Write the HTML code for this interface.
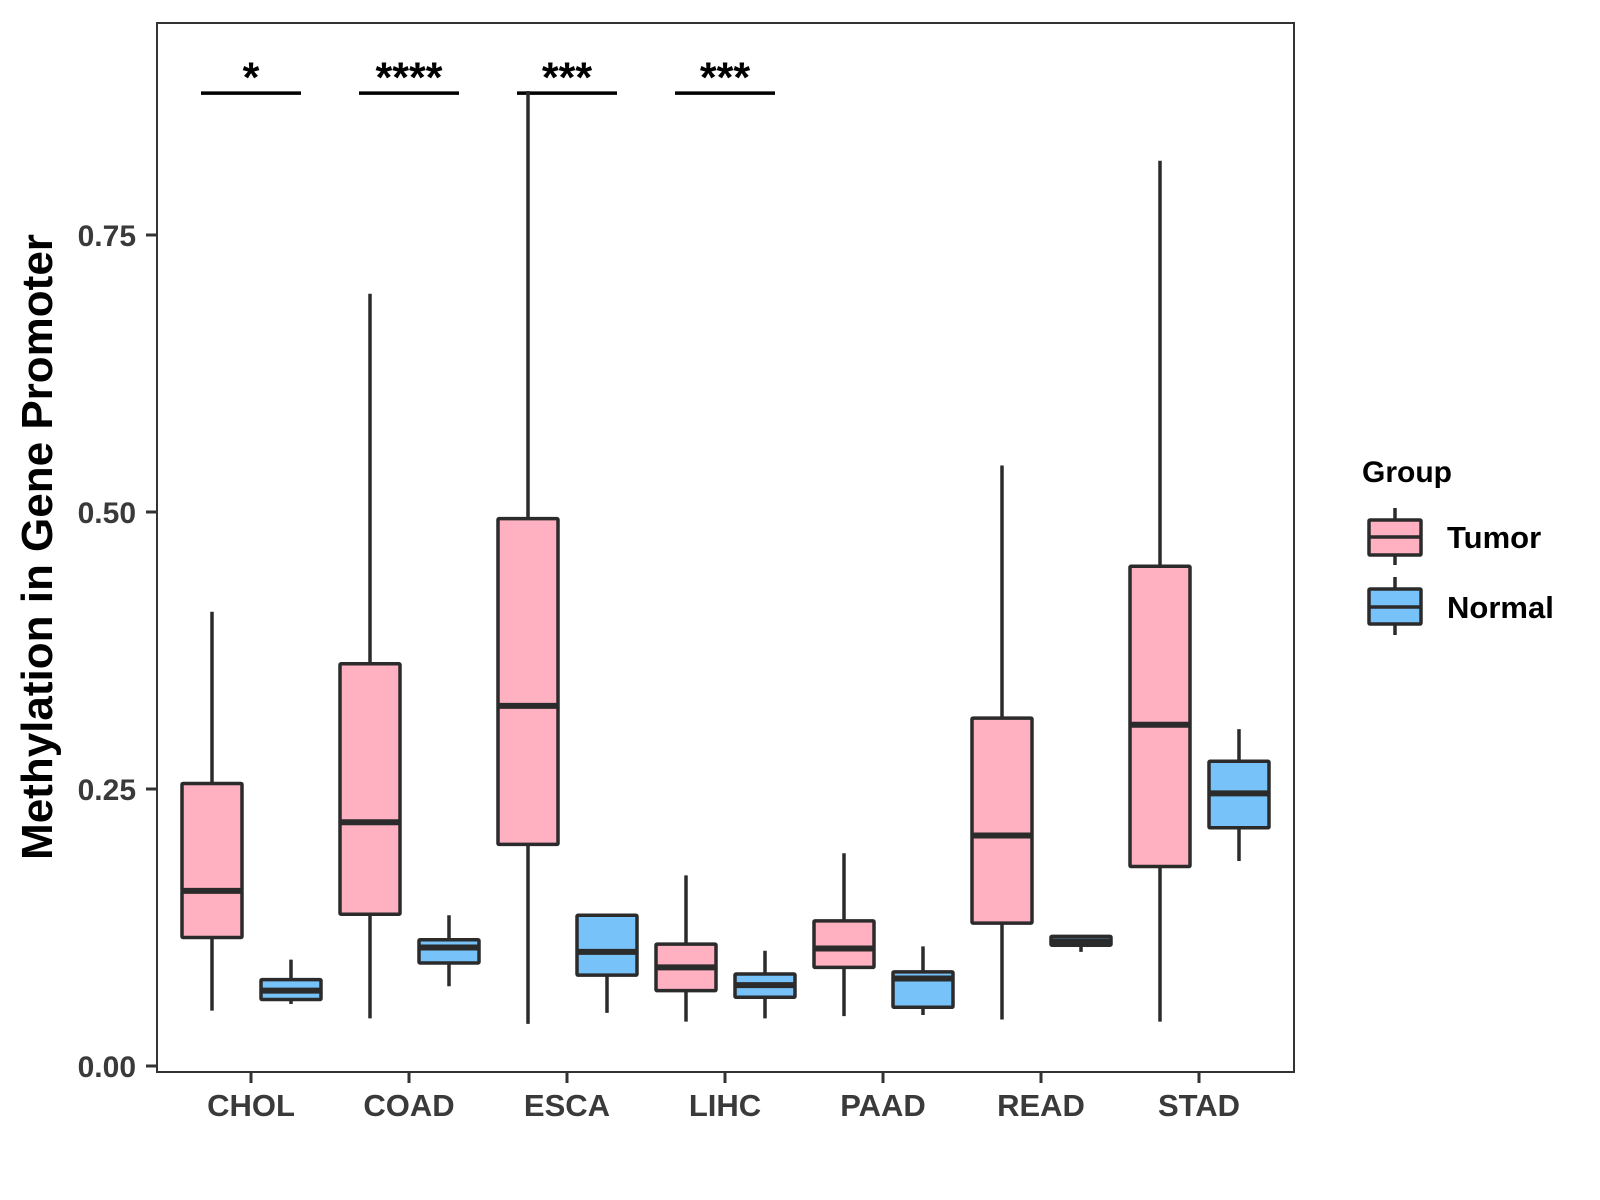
<!DOCTYPE html>
<html><head><meta charset="utf-8"><style>
html,body{margin:0;padding:0;background:#fff;}
svg{display:block;font-family:"Liberation Sans",Arial,sans-serif;}
</style></head><body>
<svg id="chart" width="1600" height="1200" viewBox="0 0 1600 1200">
<rect x="0" y="0" width="1600" height="1200" fill="#fff"/>
<g id="plot"></g>
<rect x="157" y="23" width="1137" height="1049" fill="none" stroke="#333" stroke-width="2"/>
<text transform="translate(52,547) rotate(-90)" text-anchor="middle" font-size="44" font-weight="bold" fill="#000">Methylation in Gene Promoter</text>
<g>
<text x="1362" y="482" font-size="30" font-weight="bold" fill="#000">Group</text>
<g>
<line x1="1395" y1="508" x2="1395" y2="565" stroke="#2b2b2b" stroke-width="3.5"/>
<rect x="1369" y="520" width="52" height="35" fill="#FFB0C1" stroke="#2b2b2b" stroke-width="3.5" rx="1"/>
<line x1="1369" y1="537" x2="1421" y2="537" stroke="#2b2b2b" stroke-width="3.5"/>
<text x="1447" y="548" font-size="31" font-weight="bold" fill="#000">Tumor</text>
</g>
<g>
<line x1="1395" y1="577" x2="1395" y2="635" stroke="#2b2b2b" stroke-width="3.5"/>
<rect x="1369" y="589" width="52" height="35" fill="#77C2F8" stroke="#2b2b2b" stroke-width="3.5" rx="1"/>
<line x1="1369" y1="607" x2="1421" y2="607" stroke="#2b2b2b" stroke-width="3.5"/>
<text x="1447" y="618" font-size="31" font-weight="bold" fill="#000">Normal</text>
</g>
</g>
</svg>
<script>
const categories = ["CHOL","COAD","ESCA","LIHC","PAAD","READ","STAD"];
// [min, q1, median, q3, max]
const tumorStats = [
 [0.05,0.116,0.158,0.255,0.41],
 [0.043,0.137,0.22,0.363,0.697],
 [0.038,0.2,0.325,0.494,0.88],
 [0.04,0.068,0.089,0.11,0.172],
 [0.045,0.089,0.106,0.131,0.192],
 [0.042,0.129,0.208,0.314,0.542],
 [0.04,0.18,0.308,0.451,0.817]
];
const normalStats = [
 [0.056,0.06,0.068,0.078,0.096],
 [0.072,0.093,0.107,0.114,0.136],
 [0.048,0.082,0.103,0.136,0.136],
 [0.043,0.062,0.073,0.083,0.104],
 [0.046,0.053,0.079,0.085,0.108],
 [0.103,0.109,0.1125,0.117,0.117],
 [0.185,0.215,0.246,0.275,0.304]
];
const sigLabels = ["*","****","***","***","","",""];
const sigLevel = 0.878;
const yTicks = [0,0.25,0.5,0.75];
const yTickLabels = ["0.00","0.25","0.50","0.75"];

const NS="http://www.w3.org/2000/svg";
const g=document.getElementById('plot');
function y(v){return 1066 - v*1108;}
function x(i){return 251 + i*158;}
function mk(tag,attrs,parent){const e=document.createElementNS(NS,tag);for(const k in attrs)e.setAttribute(k,attrs[k]);(parent||g).appendChild(e);return e;}
const stroke="#2b2b2b";
const bw=60;
function box(cx,s,fill,name){
  const grp=mk('g',{});
  
  
  mk('line',{x1:cx,x2:cx,y1:y(s[4]),y2:y(s[0]),stroke:stroke,'stroke-width':3.5},grp);
  mk('rect',{x:cx-bw/2,y:y(s[3]),width:bw,height:Math.max(1,y(s[1])-y(s[3])),fill:fill,stroke:stroke,'stroke-width':3.5,rx:1},grp);
  mk('line',{x1:cx-bw/2,x2:cx+bw/2,y1:y(s[2]),y2:y(s[2]),stroke:stroke,'stroke-width':6},grp);
}
categories.forEach((c,i)=>{
  if(sigLabels[i]){
    const st=mk('text',{x:x(i),y:y(sigLevel)-1,'text-anchor':'middle','font-size':43,'font-weight':'bold',fill:'#000'});
    st.textContent=sigLabels[i];
    
    
    const bl=mk('line',{x1:x(i)-50,x2:x(i)+50,y1:y(sigLevel),y2:y(sigLevel),stroke:'#000','stroke-width':3.5});
    
    
  }
  box(x(i)-39,tumorStats[i],"#FFB0C1","box-tumor-"+c.toLowerCase());
  box(x(i)+40,normalStats[i],"#77C2F8","box-normal-"+c.toLowerCase());
  const t=mk('line',{x1:x(i),x2:x(i),y1:1073,y2:1083,stroke:"#333",'stroke-width':3});
  
  
  const lb=mk('text',{x:x(i),y:1116,'text-anchor':'middle','font-size':31,'font-weight':'bold',fill:'#3a3a3a'});
  lb.textContent=c;
  
  
});
yTicks.forEach((v,i)=>{
  const t=mk('line',{x1:146,x2:157,y1:y(v),y2:y(v),stroke:"#333",'stroke-width':3});
  
  
  const lb=mk('text',{x:136,y:y(v)+11,'text-anchor':'end','font-size':30,'font-weight':'bold',fill:'#3a3a3a'});
  lb.textContent=yTickLabels[i];
  
  
});
</script>
</body></html>
